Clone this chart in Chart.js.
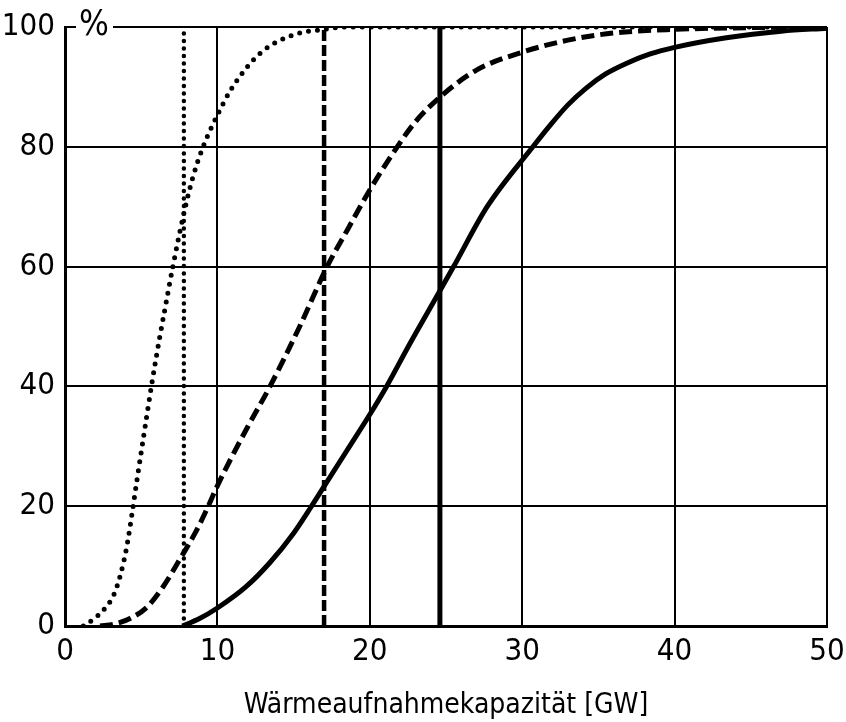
<!DOCTYPE html>
<html>
<head>
<meta charset="utf-8">
<script src="https://cdn.jsdelivr.net/npm/chart.js@4"></script>
<style>
  html, body { margin: 0; padding: 0; background: #fff; }
  #wrap { width: 846px; height: 722px; }
</style>
</head>
<body>
<div id="wrap"><canvas id="chart" width="846" height="722"></canvas></div>
<script>
// values (x in GW, y in %)
const dottedX = [1.2, 1.9, 2.5, 3.2, 3.6, 4.05, 4.4, 4.7, 5.03, 5.36, 5.7, 6.2, 6.6, 7.1, 7.9, 8.4, 9.06, 10, 11, 12.8, 15, 17, 18.5, 50];
const dottedY = [0, 1.2, 2.6, 5.2, 8.2, 13.2, 18.8, 24, 29.5, 35, 40.5, 48, 53.5, 60.3, 70, 75, 80, 85.3, 90, 95.6, 98.7, 99.6, 100, 100];

const dashedX = [2.3, 3.2, 4.3, 5.4, 6.45, 7.55, 8.64, 9.4, 10, 11, 12, 13.45, 15.4, 17.2, 18.5, 20, 21.8, 23, 24.6, 27, 30, 33, 36, 40, 45, 50];
const dashedY = [0, 0.3, 1.3, 3.2, 6.6, 11.2, 16, 20, 23.4, 28.5, 33.3, 40, 50, 60, 66, 72.8, 80, 84.2, 88.3, 92.8, 95.8, 97.8, 99, 99.6, 99.9, 100];

const solidX = [7.7, 8.8, 10, 11.9, 13.45, 15, 16.1, 17, 18.5, 20, 21.1, 22.6, 24.5, 25.5, 27.7, 30.7, 31.8, 33, 34.2, 35.5, 36.9, 38.4, 40, 43.4, 47, 50];
const solidY = [0, 1.2, 3, 6.6, 10.6, 15.5, 19.7, 23.3, 29.3, 35.3, 40, 47, 55.5, 60, 70, 80, 83.5, 87, 89.8, 92.2, 94, 95.5, 96.6, 98.2, 99.3, 99.8];

// vertical marker lines
const markerX = [7.8, 17, 24.6];
const markerY = [0, 100];

const xTicks = [0, 10, 20, 30, 40, 50];
const yTicks = [0, 20, 40, 60, 80, 100];
const xTitle = 'Wärmeaufnahmekapazität [GW]';
const unitLabel = '%';

const numFont = "'DejaVu Sans Condensed', 'DejaVu Sans', sans-serif";

function toPoints(xs, ys) {
    return xs.map((x, i) => ({ x: x, y: ys[i] }));
}

function vline(x) {
    return markerY.map(y => ({ x: x, y: y }));
}

// the "%" sits on the top frame line, cutting it
const percentPlugin = {
    id: 'percentLabel',
    afterDraw(chart) {
        const ctx = chart.ctx;
        const top = chart.scales.y.getPixelForValue(100);
        ctx.save();
        ctx.fillStyle = '#fff';
        ctx.fillRect(76, top - 8, 37, 16);
        ctx.fillStyle = '#000';
        ctx.font = '35px ' + numFont;
        ctx.textAlign = 'center';
        ctx.textBaseline = 'middle';
        ctx.fillText(unitLabel, 94, top - 1);
        ctx.restore();
    }
};

const ctx = document.getElementById('chart').getContext('2d');

new Chart(ctx, {
    type: 'scatter',
    data: {
        datasets: [
            {
                data: toPoints(solidX, solidY),
                showLine: true,
                borderColor: '#000',
                borderWidth: 5,
                pointRadius: 0,
                cubicInterpolationMode: 'monotone'
            },
            {
                data: toPoints(dashedX, dashedY),
                showLine: true,
                borderColor: '#000',
                borderWidth: 5,
                borderDash: [13, 6],
                pointRadius: 0,
                cubicInterpolationMode: 'monotone'
            },
            {
                data: toPoints(dottedX, dottedY),
                showLine: true,
                borderColor: '#000',
                borderWidth: 5,
                borderCapStyle: 'round',
                borderDash: [0, 9],
                pointRadius: 0,
                cubicInterpolationMode: 'monotone'
            },
            {
                data: vline(markerX[0]),
                showLine: true,
                borderColor: '#000',
                borderWidth: 4.5,
                borderCapStyle: 'round',
                borderDash: [0, 7.5],
                pointRadius: 0
            },
            {
                data: vline(markerX[1]),
                showLine: true,
                borderColor: '#000',
                borderWidth: 4.5,
                borderDash: [11, 4],
                pointRadius: 0
            },
            {
                data: vline(markerX[2]),
                showLine: true,
                borderColor: '#000',
                borderWidth: 5,
                pointRadius: 0
            }
        ]
    },
    options: {
        responsive: false,
        animation: false,
        layout: {
            padding: { left: 0, right: 19, top: 27, bottom: 0 }
        },
        scales: {
            x: {
                type: 'linear',
                min: 0,
                max: 50,
                afterBuildTicks: function(scale) {
                    scale.ticks = xTicks.map(v => ({ value: v }));
                },
                afterFit: function(scale) {
                    scale.height = 96;
                    scale.paddingLeft = 0;
                    scale.paddingRight = 0;
                },
                grid: {
                    color: '#000',
                    lineWidth: 2,
                    drawTicks: false
                },
                border: {
                    color: '#000',
                    width: 3
                },
                ticks: {
                    color: '#000',
                    padding: 7,
                    font: { family: numFont, size: 31 }
                },
                title: {
                    display: true,
                    text: xTitle,
                    color: '#000',
                    padding: { top: 0, bottom: 2 },
                    font: { family: numFont, size: 28, lineHeight: 1 }
                }
            },
            y: {
                type: 'linear',
                min: 0,
                max: 100,
                afterBuildTicks: function(scale) {
                    scale.ticks = yTicks.map(v => ({ value: v }));
                },
                afterFit: function(scale) {
                    scale.width = 65;
                    scale.paddingTop = 0;
                    scale.paddingBottom = 0;
                },
                grid: {
                    color: '#000',
                    lineWidth: 2,
                    drawTicks: false
                },
                border: {
                    color: '#000',
                    width: 3
                },
                ticks: {
                    color: '#000',
                    padding: 10,
                    font: { family: numFont, size: 31 }
                }
            }
        },
        plugins: {
            legend: { display: false },
            tooltip: { enabled: false }
        }
    },
    plugins: [percentPlugin]
});
</script>
</body>
</html>
